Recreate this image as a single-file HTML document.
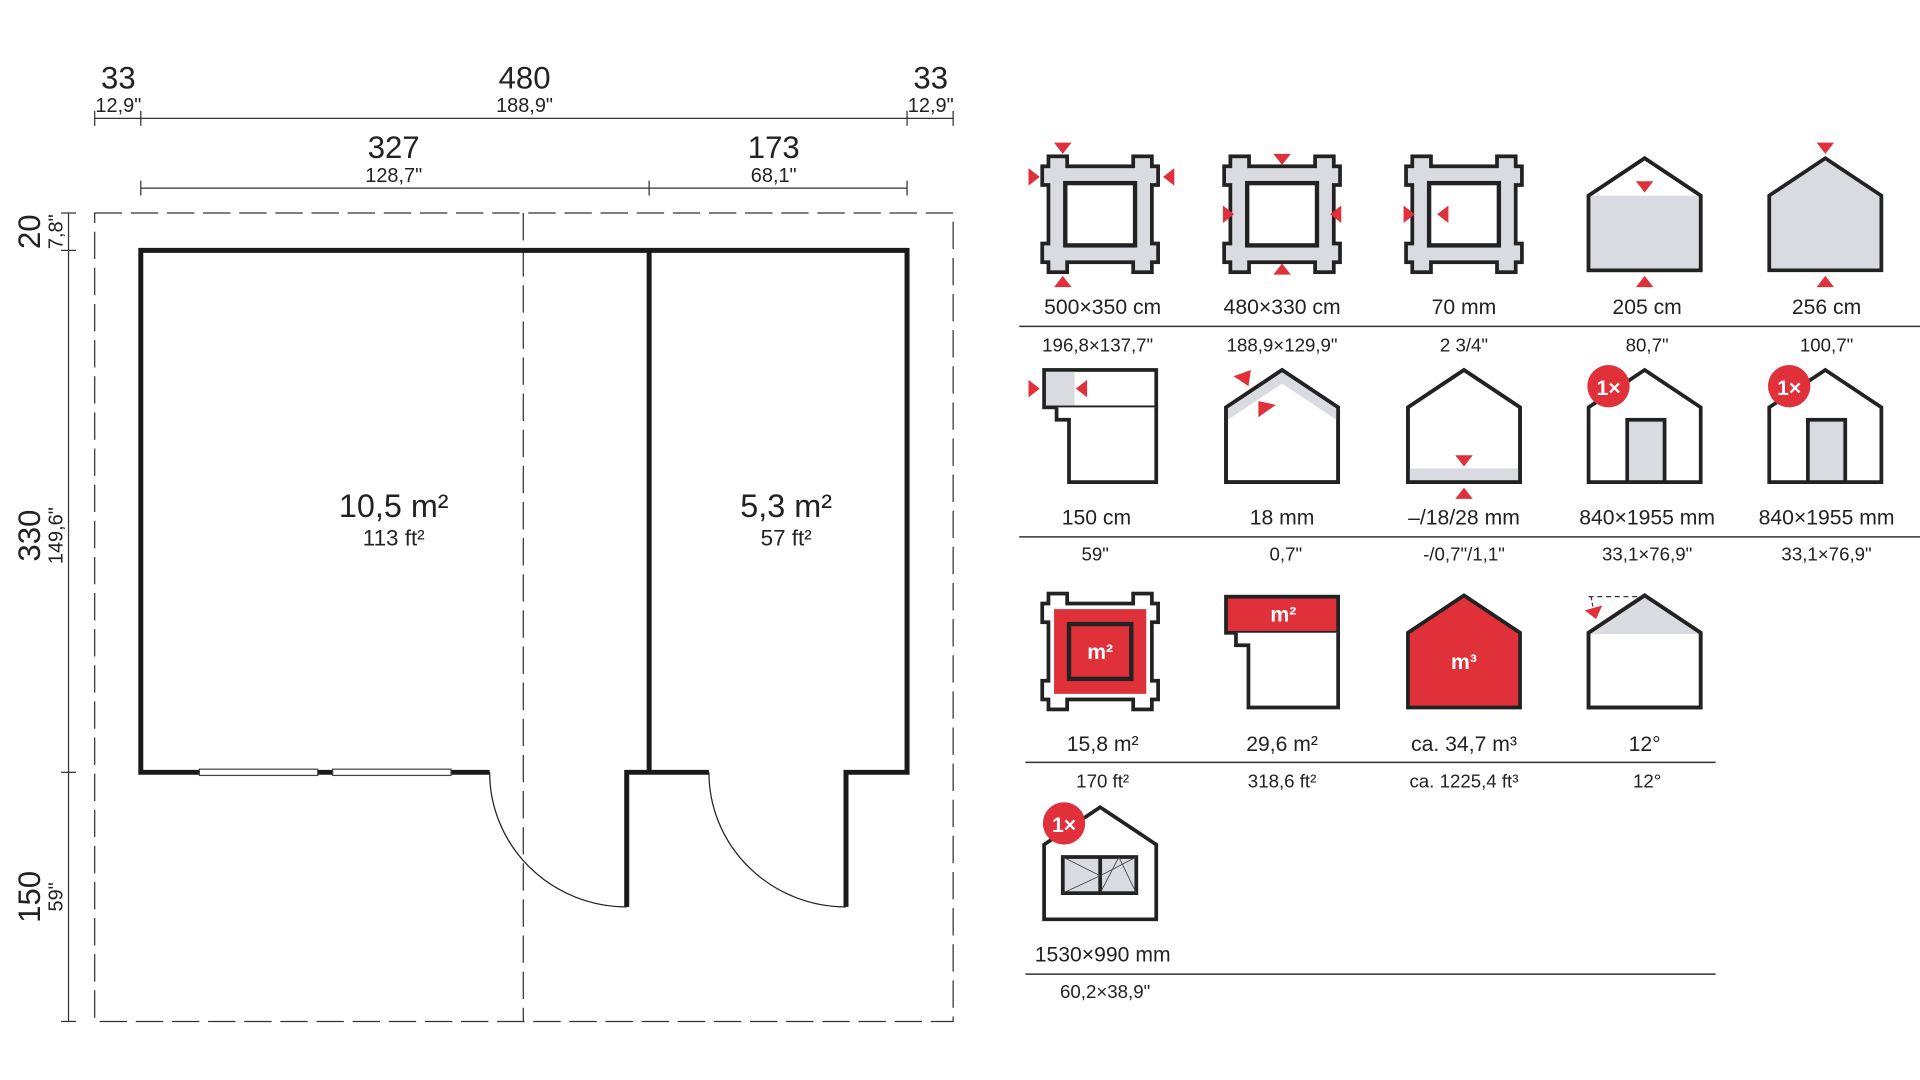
<!DOCTYPE html>
<html><head><meta charset="utf-8"><style>
html,body{margin:0;padding:0;background:#fff;width:1920px;height:1080px;overflow:hidden}
svg{display:block}
text{font-family:"Liberation Sans",sans-serif;fill:#222}
</style></head><body>
<svg width="1920" height="1080" viewBox="0 0 1541 867" preserveAspectRatio="none" xmlns="http://www.w3.org/2000/svg">
<defs>
<g id="frame">
 <g fill="#222" stroke="#222" stroke-width="6" stroke-linejoin="miter">
  <rect x="-45" y="-37" width="90" height="12"/><rect x="-45" y="25" width="90" height="12"/>
  <rect x="-40" y="-45" width="12" height="90"/><rect x="28" y="-45" width="12" height="90"/>
 </g>
 <g fill="#d9dbe0">
  <rect x="-45" y="-37" width="90" height="12"/><rect x="-45" y="25" width="90" height="12"/>
  <rect x="-40" y="-45" width="12" height="90"/><rect x="28" y="-45" width="12" height="90"/>
 </g>
 <rect x="-28" y="-25" width="56" height="50" fill="#fff" stroke="#222" stroke-width="3.5"/>
</g>
<polygon id="house" points="-45,0 -45,-60 0,-90 45,-60 45,0" fill="#fff" stroke="#222" stroke-width="3"/>
<polygon id="tri" points="-7,-4.5 7,-4.5 0,4.5" fill="#e0313a"/>
</defs>

<!-- ===== floor plan ===== -->
<g stroke="#333" stroke-width="1" fill="none">
 <line x1="76" y1="95" x2="765" y2="95"/>
 <line x1="76" y1="89" x2="76" y2="101"/><line x1="113" y1="89" x2="113" y2="101"/>
 <line x1="728" y1="89" x2="728" y2="101"/><line x1="765" y1="89" x2="765" y2="101"/>
 <line x1="113" y1="151" x2="728" y2="151"/>
 <line x1="113" y1="145" x2="113" y2="157"/><line x1="521" y1="145" x2="521" y2="157"/><line x1="728" y1="145" x2="728" y2="157"/>
 <line x1="55" y1="171" x2="55" y2="820"/>
 <line x1="49" y1="171" x2="61" y2="171"/><line x1="49" y1="201" x2="61" y2="201"/>
 <line x1="49" y1="620" x2="61" y2="620"/><line x1="49" y1="820" x2="61" y2="820"/>
 <g stroke-dasharray="22,7">
  <rect x="76" y="171" width="689" height="649"/>
  <line x1="420" y1="171" x2="420" y2="820"/>
 </g>
</g>
<g fill="none" stroke="#1a1a1a" stroke-width="4">
 <polyline points="393,620 113,620 113,201 728,201 728,620 679,620 679,728"/>
 <line x1="521" y1="201" x2="521" y2="620"/>
 <polyline points="503,728 503,620 569,620"/>
</g>
<g fill="#fff" stroke="#444" stroke-width="1">
 <rect x="160" y="617.5" width="95" height="5"/><rect x="267" y="617.5" width="95" height="5"/>
</g>
<g fill="none" stroke="#222" stroke-width="1">
 <path d="M393,620 A110,108 0 0 0 503,728"/>
 <path d="M569,620 A110,108 0 0 0 679,728"/>
</g>
<g text-anchor="middle">
 <text x="95" y="71" font-size="25">33</text><text x="95" y="90" font-size="16">12,9"</text>
 <text x="421" y="71" font-size="25">480</text><text x="421" y="90" font-size="16">188,9"</text>
 <text x="747" y="71" font-size="25">33</text><text x="747" y="90" font-size="16">12,9"</text>
 <text x="316" y="127" font-size="25">327</text><text x="316" y="146" font-size="16">128,7"</text>
 <text x="621" y="127" font-size="25">173</text><text x="621" y="146" font-size="16">68,1"</text>
 <text x="316" y="415" font-size="26">10,5 m²</text><text x="316" y="438" font-size="18">113 ft²</text>
 <text x="631" y="415" font-size="26">5,3 m²</text><text x="631" y="438" font-size="18">57 ft²</text>
</g>
<g text-anchor="middle">
 <text transform="translate(32,186) rotate(-90)" font-size="25">20</text>
 <text transform="translate(50,186) rotate(-90)" font-size="16">7,8"</text>
 <text transform="translate(32,430) rotate(-90)" font-size="25">330</text>
 <text transform="translate(50,430) rotate(-90)" font-size="16">149,6"</text>
 <text transform="translate(32,720) rotate(-90)" font-size="25">150</text>
 <text transform="translate(50,720) rotate(-90)" font-size="16">59"</text>
</g>

<!-- ===== legend ===== -->
<g stroke="#333" stroke-width="1.2">
 <line x1="818" y1="262" x2="1541" y2="262"/>
 <line x1="818" y1="431" x2="1541" y2="431"/>
 <line x1="823" y1="612" x2="1377" y2="612"/>
 <line x1="823" y1="782" x2="1377" y2="782"/>
</g>
<g text-anchor="middle" font-size="17">
 <text x="885" y="252">500×350 cm</text><text x="1029" y="252">480×330 cm</text><text x="1175" y="252">70 mm</text><text x="1322" y="252">205 cm</text><text x="1466" y="252">256 cm</text>
 <text x="880" y="421">150 cm</text><text x="1029" y="421">18 mm</text><text x="1175" y="421">–/18/28 mm</text><text x="1322" y="421">840×1955 mm</text><text x="1466" y="421">840×1955 mm</text>
 <text x="885" y="603">15,8 m²</text><text x="1029" y="603">29,6 m²</text><text x="1175" y="603">ca. 34,7 m³</text><text x="1320" y="603">12°</text>
 <text x="885" y="772">1530×990 mm</text>
</g>
<g text-anchor="middle" font-size="15">
 <text x="881" y="282">196,8×137,7"</text><text x="1029" y="282">188,9×129,9"</text><text x="1175" y="282">2  3/4"</text><text x="1322" y="282">80,7"</text><text x="1466" y="282">100,7"</text>
 <text x="879" y="450">59"</text><text x="1032" y="450">0,7"</text><text x="1175" y="450">-/0,7"/1,1"</text><text x="1322" y="450">33,1×76,9"</text><text x="1466" y="450">33,1×76,9"</text>
 <text x="885" y="632">170 ft²</text><text x="1029" y="632">318,6 ft²</text><text x="1175" y="632">ca. 1225,4 ft³</text><text x="1322" y="632">12°</text>
 <text x="887" y="801">60,2×38,9"</text>
</g>

<!-- row 1 -->
<use href="#frame" x="883" y="172"/>
<use href="#tri" x="853" y="119"/><use href="#tri" transform="translate(853,226) rotate(180)"/>
<use href="#tri" transform="translate(830,142) rotate(-90)"/><use href="#tri" transform="translate(938,142) rotate(90)"/>
<use href="#frame" x="1029" y="172"/>
<use href="#tri" x="1029" y="128"/><use href="#tri" transform="translate(1029,216) rotate(180)"/>
<use href="#tri" transform="translate(986,172) rotate(-90)"/><use href="#tri" transform="translate(1072,172) rotate(90)"/>
<use href="#frame" x="1175" y="172"/>
<use href="#tri" transform="translate(1131,172) rotate(-90)"/><use href="#tri" transform="translate(1158,172) rotate(90)"/>

<g transform="translate(1320,217)">
 <use href="#house"/>
 <polygon points="-43,-1.5 -43,-60 43,-60 43,-1.5" fill="#d9dbe0"/>
 <polygon points="-45,0 -45,-60 0,-90 45,-60 45,0" fill="none" stroke="#222" stroke-width="3"/>
</g>
<use href="#tri" x="1320" y="150"/><use href="#tri" transform="translate(1320,226) rotate(180)"/>
<g transform="translate(1465,217)">
 <polygon points="-45,0 -45,-60 0,-90 45,-60 45,0" fill="#d9dbe0" stroke="#222" stroke-width="3"/>
</g>
<use href="#tri" x="1465" y="119"/><use href="#tri" transform="translate(1465,226) rotate(180)"/>

<!-- row 2 -->
<g stroke="#222" stroke-width="3">
 <rect x="838" y="297" width="90" height="30" fill="#fff"/>
 <rect x="839.5" y="298.5" width="23" height="27" fill="#d9dbe0" stroke="none"/>
 <polyline points="848,327 848,337 858,337 858,387 928,387 928,327" fill="#fff"/>
</g>
<use href="#tri" transform="translate(830,312) rotate(-90)"/><use href="#tri" transform="translate(868,312) rotate(90)"/>

<g transform="translate(1029,387)">
 <use href="#house"/>
 <polygon points="-43.5,-59 0,-88 43.5,-59 43.5,-50 0,-79 -43.5,-50" fill="#d9dbe0"/>
 <polygon points="-45,0 -45,-60 0,-90 45,-60 45,0" fill="none" stroke="#222" stroke-width="3"/>
</g>
<polygon points="990,302 1004,297 1002,310" fill="#e0313a"/>
<polygon points="1010,322 1024,325 1010,335" fill="#e0313a"/>

<g transform="translate(1175,387)">
 <use href="#house"/>
 <rect x="-43.5" y="-11" width="87" height="9.5" fill="#d9dbe0"/>
 <polygon points="-45,0 -45,-60 0,-90 45,-60 45,0" fill="none" stroke="#222" stroke-width="3"/>
</g>
<use href="#tri" x="1175" y="370"/><use href="#tri" transform="translate(1175,396) rotate(180)"/>

<g transform="translate(1320,387)">
 <use href="#house"/>
 <rect x="-14" y="-50" width="30" height="50" fill="#d9dbe0" stroke="#222" stroke-width="3"/>
</g>
<circle cx="1291" cy="310" r="17" fill="#e0313a"/><text x="1291" y="317" font-size="17" font-weight="bold" text-anchor="middle" style="fill:#fff">1×</text>
<g transform="translate(1465,387)">
 <use href="#house"/>
 <rect x="-14" y="-50" width="30" height="50" fill="#d9dbe0" stroke="#222" stroke-width="3"/>
</g>
<circle cx="1436" cy="310" r="17" fill="#e0313a"/><text x="1436" y="317" font-size="17" font-weight="bold" text-anchor="middle" style="fill:#fff">1×</text>

<!-- row 3 -->
<g transform="translate(883,523)">
 <g fill="#222" stroke="#222" stroke-width="6">
  <rect x="-45" y="-37" width="90" height="12"/><rect x="-45" y="25" width="90" height="12"/>
  <rect x="-40" y="-45" width="12" height="90"/><rect x="28" y="-45" width="12" height="90"/>
 </g>
 <g fill="#fff">
  <rect x="-45" y="-37" width="90" height="12"/><rect x="-45" y="25" width="90" height="12"/>
  <rect x="-40" y="-45" width="12" height="90"/><rect x="28" y="-45" width="12" height="90"/>
 </g>
 <rect x="-37" y="-34" width="74" height="68" fill="#e0313a"/>
 <rect x="-25" y="-22" width="50" height="44" fill="#e0313a" stroke="#222" stroke-width="3.5"/>
 <text x="0" y="6" font-size="17" font-weight="bold" text-anchor="middle" style="fill:#fff">m²</text>
</g>
<g stroke="#222" stroke-width="3">
 <rect x="984" y="479" width="90" height="29" fill="#e0313a"/>
 <polyline points="992,508 992,518 1002,518 1002,568 1074,568 1074,508" fill="#fff"/>
</g>
<text x="1030" y="499" font-size="17" font-weight="bold" text-anchor="middle" style="fill:#fff">m²</text>
<g transform="translate(1175,568)">
 <polygon points="-45,0 -45,-60 0,-90 45,-60 45,0" fill="#e0313a" stroke="#222" stroke-width="3"/>
 <text x="0" y="-31" font-size="17" font-weight="bold" text-anchor="middle" style="fill:#fff">m³</text>
</g>
<g transform="translate(1320,568)">
 <use href="#house"/>
 <polygon points="-43,-59 0,-88 43,-59" fill="#d9dbe0"/>
 <polygon points="-45,0 -45,-60 0,-90 45,-60 45,0" fill="none" stroke="#222" stroke-width="3"/>
</g>
<line x1="1275" y1="479" x2="1320" y2="479" stroke="#333" stroke-width="1" stroke-dasharray="4,3"/>
<line x1="1277" y1="479" x2="1279" y2="490" stroke="#333" stroke-width="1" stroke-dasharray="3,2"/>
<polygon points="1272,490 1286,486 1281,497" fill="#e0313a"/>

<!-- row 4 -->
<g transform="translate(883,738)">
 <use href="#house"/>
 <rect x="-30" y="-50" width="59" height="29" fill="#d9dbe0" stroke="#222" stroke-width="3"/>
 <line x1="0" y1="-50" x2="0" y2="-21" stroke="#222" stroke-width="3"/>
 <g stroke="#444" stroke-width="0.7"><line x1="-30" y1="-50" x2="0" y2="-35"/><line x1="-30" y1="-21" x2="0" y2="-35"/><line x1="0" y1="-21" x2="15" y2="-50"/><line x1="15" y1="-50" x2="29" y2="-21"/><line x1="0" y1="-35" x2="29" y2="-50"/></g>
</g>
<circle cx="854" cy="661" r="17" fill="#e0313a"/><text x="854" y="668" font-size="17" font-weight="bold" text-anchor="middle" style="fill:#fff">1×</text>
</svg>
</body></html>
